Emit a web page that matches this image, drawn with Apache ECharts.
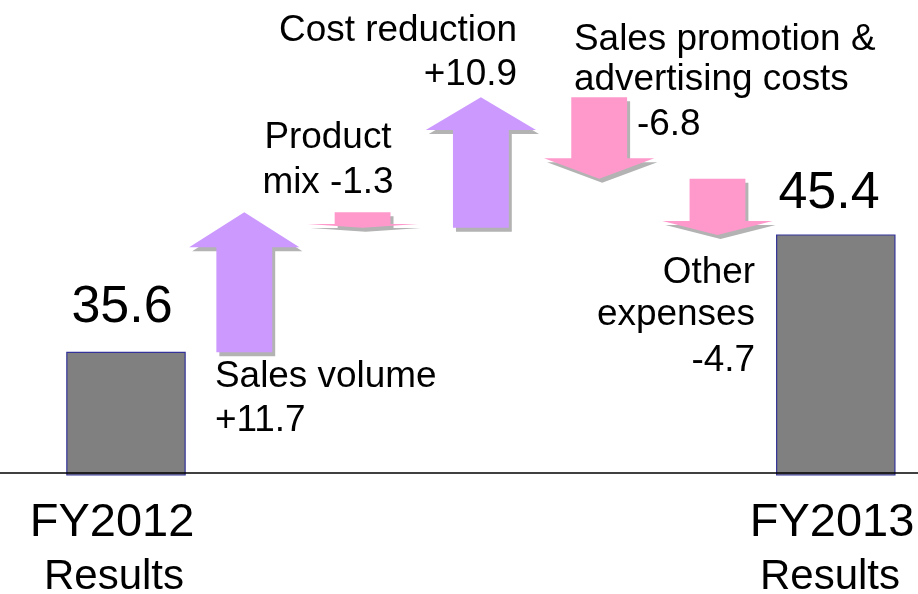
<!DOCTYPE html>
<html><head><meta charset="utf-8">
<script src="https://cdn.jsdelivr.net/npm/echarts@6/dist/echarts.min.js"></script>
<style>html,body{margin:0;padding:0;background:#fff}#c{width:918px;height:594px}</style>
</head><body><div id="c"></div>
<script>
// ---- data ----
const categories = ['FY2012 Results', 'Sales volume', 'Product mix', 'Cost reduction', 'Sales promotion & advertising costs', 'Other expenses', 'FY2013 Results'];
const startTotal = 35.6;
const endTotal = 45.4;
const deltas = [11.7, -1.3, 10.9, -6.8, -4.7];
const categoryLines = [['FY2012', 'Results'], ['FY2013', 'Results']];
const deltaNameLines = [['Sales volume'], ['Product', 'mix'], ['Cost reduction'], ['Sales promotion &', 'advertising costs'], ['Other', 'expenses']];

const fmt = v => (v > 0 ? '+' : '') + v.toFixed(1);

// waterfall steps
let level = startTotal;
const arrowData = deltas.map((d, i) => {
  const from = level;
  level = Math.round((level + d) * 10) / 10;
  return [i + 1, from, level, d];
});
const barData = [[0, startTotal], [categories.length - 1, endTotal]];

const FONT = '"Liberation Sans", Arial, sans-serif';
function txt(text, x, y, size, align, sx) {
  return { type: 'text', x: x, y: y, z: 100, scaleX: sx || 1,
    style: { text: text, fontSize: size, fontFamily: FONT, fill: '#000', align: align, verticalAlign: 'middle' } };
}
const L = 36, S = 1.025; // label font size, horizontal stretch
const graphics = [
  txt(startTotal.toFixed(1), 122, 308, 52, 'center'),
  txt(endTotal.toFixed(1), 829, 194, 52, 'center'),
  txt(categoryLines[0][0], 112, 523, 47, 'center'),
  txt(categoryLines[0][1], 114, 577, 42, 'center'),
  txt(categoryLines[1][0], 832, 523, 47, 'center'),
  txt(categoryLines[1][1], 830, 577, 42, 'center'),
  txt(deltaNameLines[0][0], 215, 377, L, 'left', S),
  txt(fmt(deltas[0]), 215, 421, L, 'left', S),
  txt(deltaNameLines[1][0], 328, 138, L, 'center', S),
  txt(deltaNameLines[1][1] + ' ' + fmt(deltas[1]), 328, 183, L, 'center', S),
  txt(deltaNameLines[2][0], 517, 31, L, 'right', S),
  txt(fmt(deltas[2]), 517, 75, L, 'right', S),
  txt(deltaNameLines[3][0], 574, 40, L, 'left', S),
  txt(deltaNameLines[3][1], 574, 80, L, 'left', S),
  txt(fmt(deltas[3]), 637, 125, L, 'left', S),
  txt(deltaNameLines[4][0], 755, 273, L, 'right', S),
  txt(deltaNameLines[4][1], 755, 315, L, 'right', S),
  txt(fmt(deltas[4]), 755, 361, L, 'right', S)
];

const chart = echarts.init(document.getElementById('c'), null, { renderer: 'canvas' });
chart.setOption({
  animation: false,
  backgroundColor: '#fff',
  grid: { left: 0, right: 0, top: 0, bottom: 119 },
  xAxis: {
    type: 'value', min: -1.065, max: 6.695, offset: -2, z: 10,
    axisLine: { show: true, onZero: false, lineStyle: { color: '#000', width: 1.6 } },
    axisTick: { show: false }, axisLabel: { show: false }, splitLine: { show: false }
  },
  yAxis: { type: 'value', min: 25.35, max: 65.03, show: false, splitLine: { show: false } },
  graphic: graphics,
  series: [
    {
      type: 'custom', name: 'Results', data: barData, z: 2,
      renderItem: function (params, api) {
        const x = api.value(0), v = api.value(1);
        const top = api.coord([x, v]);
        const bw = api.size([1, 0])[0];
        const bottomY = params.coordSys.y + params.coordSys.height;
        return { type: 'rect',
          shape: { x: top[0] - bw / 2, y: top[1], width: bw, height: bottomY - top[1] },
          style: { fill: '#808080', stroke: '#333399', lineWidth: 1.2 } };
      }
    },
    {
      type: 'custom', name: 'Changes', data: arrowData, z: 3,
      renderItem: function (params, api) {
        const x = api.value(0), from = api.value(1), to = api.value(2);
        const c0 = api.coord([x, from]), c1 = api.coord([x, to]);
        const bw = api.size([1, 0])[0];
        const cx = c0[0], y0 = c0[1], y1 = c1[1];
        const dir = y1 < y0 ? -1 : 1;
        const len = Math.abs(y1 - y0);
        const h = 0.25 * len;
        const sw = bw * 0.236, hw = bw * 0.466;
        const yh = y1 - dir * h;
        const pts = [[cx - sw, y0], [cx - sw, yh], [cx - hw, yh], [cx, y1], [cx + hw, yh], [cx + sw, yh], [cx + sw, y0]];
        const sh = pts.map(p => [p[0] + 3, p[1] + 4]);
        return { type: 'group', children: [
          { type: 'polygon', shape: { points: sh }, style: { fill: '#b3b3b3' } },
          { type: 'polygon', shape: { points: pts }, style: { fill: dir < 0 ? '#cc99ff' : '#ff99cc' } }
        ] };
      }
    }
  ]
});
</script>
</body></html>
